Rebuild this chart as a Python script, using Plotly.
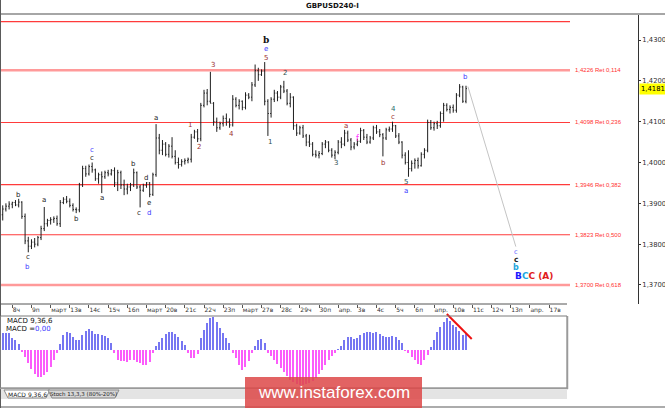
import plotly.graph_objects as go

W, H = 665, 408

# 4h bars, index 0 = first bar of 8 March, 6 bars per day
bar_idx = list(range(-3, 143))

bar_open = [
    1.3872, 1.3886, 1.3893, 1.3898, 1.3902, 1.3896,
    1.3903, 1.3868, 1.3808, 1.3795, 1.3805, 1.3800,
    1.3816, 1.3838, 1.3850, 1.3858, 1.3860, 1.3863,
    1.3850, 1.3902, 1.3910, 1.3905, 1.3895, 1.3885,
    1.3884, 1.3945, 1.3985, 1.3972, 1.3990, 1.3982,
    1.3960, 1.3970, 1.3965, 1.3975, 1.3972, 1.3980,
    1.3950, 1.3975, 1.3945, 1.3935, 1.3940, 1.3945,
    1.3975, 1.3940, 1.3932, 1.3944, 1.3950, 1.3922,
    1.3970, 1.4060, 1.4030, 1.4045, 1.4020, 1.4040,
    1.4015, 1.4000, 1.3995, 1.4002, 1.4005, 1.4008,
    1.4062, 1.4075, 1.4058, 1.4140, 1.4170, 1.4150,
    1.4145, 1.4100, 1.4085, 1.4095, 1.4108, 1.4100,
    1.4092, 1.4155, 1.4140, 1.4150, 1.4135, 1.4165,
    1.4160, 1.4190, 1.4225, 1.4215, 1.4224, 1.4150,
    1.4120, 1.4155, 1.4170, 1.4160, 1.4185, 1.4175,
    1.4145, 1.4160, 1.4090, 1.4072, 1.4085, 1.4065,
    1.4050, 1.4045, 1.4020, 1.4018, 1.4022, 1.4045,
    1.4050, 1.4030, 1.4018, 1.4025, 1.4050, 1.4045,
    1.4072, 1.4055, 1.4038, 1.4045, 1.4052, 1.4078,
    1.4062, 1.4050, 1.4060, 1.4085, 1.4075, 1.4068,
    1.4060, 1.4080, 1.4082, 1.4090, 1.4065, 1.4050,
    1.4018, 1.4000, 1.3985, 1.3998, 1.4005, 1.3992,
    1.4020, 1.4030, 1.4098, 1.4085, 1.4095, 1.4090,
    1.4120, 1.4140, 1.4130, 1.4135, 1.4128, 1.4165,
    1.4185, 1.4150,
]
bar_high = [
    1.3895, 1.3900, 1.3905, 1.3904, 1.3908, 1.3911,
    1.3905, 1.3875, 1.3818, 1.3812, 1.3815, 1.3820,
    1.3845, 1.3891, 1.3862, 1.3866, 1.3868, 1.3870,
    1.3908, 1.3915, 1.3918, 1.3912, 1.3900, 1.3890,
    1.3950, 1.3992, 1.3992, 1.3995, 1.4000, 1.3985,
    1.3975, 1.3978, 1.3980, 1.3982, 1.3984, 1.3988,
    1.3982, 1.3980, 1.3958, 1.3948, 1.3950, 1.3985,
    1.3978, 1.3945, 1.3948, 1.3952, 1.3952, 1.3975,
    1.4094, 1.4070, 1.4055, 1.4050, 1.4045, 1.4062,
    1.4030, 1.4012, 1.4008, 1.4010, 1.4012, 1.4070,
    1.4080, 1.4082, 1.4146, 1.4178, 1.4180, 1.4222,
    1.4148, 1.4110, 1.4100, 1.4115, 1.4120, 1.4108,
    1.4165, 1.4160, 1.4155, 1.4152, 1.4172, 1.4170,
    1.4197, 1.4240, 1.4232, 1.4228, 1.4246, 1.4155,
    1.4160, 1.4178, 1.4175, 1.4190, 1.4200, 1.4180,
    1.4170, 1.4162, 1.4095, 1.4090, 1.4092, 1.4070,
    1.4068, 1.4050, 1.4030, 1.4028, 1.4050, 1.4055,
    1.4052, 1.4035, 1.4030, 1.4055, 1.4062, 1.4080,
    1.4078, 1.4060, 1.4050, 1.4058, 1.4085, 1.4082,
    1.4070, 1.4065, 1.4090, 1.4092, 1.4082, 1.4072,
    1.4085, 1.4088, 1.4100, 1.4092, 1.4072, 1.4052,
    1.4025, 1.4030, 1.4005, 1.4010, 1.4012, 1.4025,
    1.4035, 1.4105, 1.4104, 1.4100, 1.4102, 1.4125,
    1.4146, 1.4145, 1.4140, 1.4142, 1.4170, 1.4192,
    1.4188, 1.4188,
]
bar_low = [
    1.3858, 1.3880, 1.3885, 1.3888, 1.3893, 1.3890,
    1.3862, 1.3800, 1.3780, 1.3788, 1.3792, 1.3795,
    1.3810, 1.3832, 1.3843, 1.3848, 1.3852, 1.3845,
    1.3842, 1.3898, 1.3900, 1.3890, 1.3880, 1.3876,
    1.3878, 1.3940, 1.3965, 1.3968, 1.3975, 1.3955,
    1.3948, 1.3925, 1.3960, 1.3966, 1.3968, 1.3940,
    1.3930, 1.3935, 1.3920, 1.3922, 1.3930, 1.3940,
    1.3935, 1.3890, 1.3928, 1.3938, 1.3915, 1.3918,
    1.3965, 1.4020, 1.4018, 1.4015, 1.4012, 1.4010,
    1.3995, 1.3985, 1.3990, 1.3995, 1.3998, 1.4000,
    1.4058, 1.4050, 1.4052, 1.4135, 1.4140, 1.4145,
    1.4090, 1.4075, 1.4080, 1.4088, 1.4090, 1.4085,
    1.4088, 1.4135, 1.4130, 1.4128, 1.4130, 1.4155,
    1.4150, 1.4185, 1.4200, 1.4212, 1.4140, 1.4065,
    1.4110, 1.4148, 1.4150, 1.4155, 1.4170, 1.4140,
    1.4135, 1.4080, 1.4065, 1.4068, 1.4060, 1.4040,
    1.4038, 1.4015, 1.4012, 1.4010, 1.4018, 1.4035,
    1.4025, 1.4012, 1.4008, 1.4020, 1.4035, 1.4040,
    1.4050, 1.4030, 1.4032, 1.4040, 1.4048, 1.4055,
    1.4045, 1.4046, 1.4055, 1.4070, 1.4062, 1.4015,
    1.4055, 1.4075, 1.4075, 1.4060, 1.4045, 1.4010,
    1.3995, 1.3965, 1.3978, 1.3985, 1.3985, 1.3990,
    1.4010, 1.4025, 1.4080, 1.4078, 1.4082, 1.4085,
    1.4100, 1.4125, 1.4120, 1.4122, 1.4122, 1.4160,
    1.4146, 1.4145,
]
bar_close = [
    1.3886, 1.3893, 1.3898, 1.3902, 1.3896, 1.3903,
    1.3868, 1.3808, 1.3795, 1.3805, 1.3800, 1.3816,
    1.3838, 1.3850, 1.3858, 1.3860, 1.3863, 1.3850,
    1.3902, 1.3910, 1.3905, 1.3895, 1.3885, 1.3884,
    1.3945, 1.3985, 1.3972, 1.3990, 1.3982, 1.3960,
    1.3970, 1.3965, 1.3975, 1.3972, 1.3980, 1.3950,
    1.3975, 1.3945, 1.3935, 1.3940, 1.3945, 1.3975,
    1.3940, 1.3932, 1.3944, 1.3950, 1.3922, 1.3970,
    1.4060, 1.4030, 1.4045, 1.4020, 1.4040, 1.4015,
    1.4000, 1.3995, 1.4002, 1.4005, 1.4008, 1.4062,
    1.4075, 1.4058, 1.4140, 1.4170, 1.4150, 1.4145,
    1.4100, 1.4085, 1.4095, 1.4108, 1.4100, 1.4092,
    1.4155, 1.4140, 1.4150, 1.4135, 1.4165, 1.4160,
    1.4190, 1.4225, 1.4215, 1.4224, 1.4150, 1.4120,
    1.4155, 1.4170, 1.4160, 1.4185, 1.4175, 1.4145,
    1.4160, 1.4090, 1.4072, 1.4085, 1.4065, 1.4050,
    1.4045, 1.4020, 1.4018, 1.4022, 1.4045, 1.4050,
    1.4030, 1.4018, 1.4025, 1.4050, 1.4045, 1.4072,
    1.4055, 1.4038, 1.4045, 1.4052, 1.4078, 1.4062,
    1.4050, 1.4060, 1.4085, 1.4075, 1.4068, 1.4060,
    1.4080, 1.4082, 1.4090, 1.4065, 1.4050, 1.4018,
    1.4000, 1.3985, 1.3998, 1.4005, 1.3992, 1.4020,
    1.4030, 1.4098, 1.4085, 1.4095, 1.4090, 1.4120,
    1.4140, 1.4130, 1.4135, 1.4128, 1.4165, 1.4185,
    1.4150, 1.4181,
]

# MACD(9,36,6) histogram, same bars
macd_hist = [
    17, 17, 17, 12, 10, 6,
    -2, -7, -13, -19, -24, -27,
    -27, -25, -22, -17, -10, -3,
    6, 15, 18, 17, 13, 10,
    10, 15, 19, 21, 19, 16,
    16, 15, 14, 12, 7, -3,
    -10, -11, -11, -12, -10, -10,
    -12, -13, -15, -15, -12, -3,
    4, 8, 12, 16, 18, 18,
    16, 13, 9, 5, -3, -8,
    -8, -4, 12, 20, 27, 32,
    33, 28, 22, 17, 12, 7,
    -3, -8, -15, -20, -17, -11,
    -3, 4, 10, 11, 7, -3,
    -6, -10, -14, -18, -22, -26,
    -30, -32, -34, -35, -35, -34,
    -33, -31, -28, -24, -20, -15,
    -10, -6, -3, 1, 4, 10,
    13, 13, 11, 12, 15, 17,
    18, 18, 17, 18, 16, 14,
    13, 13, 14, 13, 10, 7,
    -1, -3, -7, -10, -14, -15,
    -10, -5, 3, 10, 18, 23,
    28, 32, 29, 25, 23, 19,
    15, 17,
]

bars_per_day = 6
day_labels = ["8ч", "9п", "март", "13в", "14с", "15ч", "16п", "март", "20в", "21с",
              "22ч", "23п", "март", "27в", "28с", "29ч", "30п", "апр.", "3в", "4с",
              "5ч", "6п", "апр.", "10в", "11с", "12ч", "13п", "апр.", "17в"]

price_ticks = [1.37, 1.38, 1.39, 1.40, 1.41, 1.42, 1.43]
last_price = 1.4181

fib_levels = [1.4345, 1.4226, 1.4098, 1.3946, 1.3823, 1.3700]
fib_ratio = [None, "0,114", "0,236", "0,382", "0,500", "0,618"]

# wave marks: text, bar position, price, kind
wave_text = ["b", "c", "b", "a", "b", "c", "c", "a", "b", "c", "d", "e", "d", "a",
             "1", "2", "3", "4", "5", "e", "b", "1", "2", "3", "a", "f", "b", "c",
             "4", "5", "a", "b"]
wave_x = [1.8, 4.9, 4.9, 9.9, 20.0, 25.0, 25.0, 28.0, 37.8, 39.7, 41.8, 42.8, 42.8, 45.0,
          55.6, 58.4, 62.8, 68.5, 79.4, 79.4, 79.4, 80.7, 85.4, 101.3, 104.4, 108.0, 116.3, 119.2,
          119.2, 123.2, 123.2, 142.0]
wave_y = [1.3920, 1.3769, 1.3744, 1.3908, 1.3862, 1.4030, 1.4010, 1.3913, 1.3996, 1.3876,
          1.3962, 1.3901, 1.3876, 1.4110, 1.4092, 1.4038, 1.4239, 1.4070, 1.4256, 1.4278,
          1.4300, 1.4050, 1.4219, 1.3999, 1.4089, 1.4058, 1.3999, 1.4111, 1.4131, 1.3952,
          1.3930, 1.4209]
wave_kind = ["k", "k", "blue", "k", "k", "blue", "k", "k", "k", "k", "k", "k", "blue", "k",
             "brown", "brown", "brown", "brown", "brown", "blue", "top", "slate", "slate", "slate",
             "brown", "mag", "brown", "brown", "teal", "slate", "blue", "blue"]

# projected path and its target labels
proj_x = [142.6, 157.6]
proj_y = [1.4186, 1.3794]
target_x = 157.6
target_c1_y = 1.3781
target_c2_y = 1.3763
target_b_y = 1.3744
target_main_y = 1.3722

macd_trend_x = [136.0, 143.8]
macd_trend_y = [36, 11]

# ---- pixel geometry of the terminal window ----
BAR0_PX, BAR_PX = 12.3, 3.195      # x pixel of bar 0, pixels per bar
P_REF, Y_REF, PX_PER_UNIT = 1.43, 40, 4083


def px_x(x):
    return x / W


def px_y(y):
    return 1 - y / H


def bar_at(x):
    return (x - BAR0_PX) / BAR_PX


def price_at(y):
    return P_REF - (y - Y_REF) / PX_PER_UNIT


AX_RIGHT = 638
x_range = [bar_at(0), bar_at(AX_RIGHT)]
y_range = [price_at(304), price_at(14)]

kind_style = {
    "k": dict(color="#222222", size=7, family="DejaVu Sans"),
    "blue": dict(color="#3a3aff", size=7, family="DejaVu Sans"),
    "brown": dict(color="#9a3030", size=7, family="DejaVu Sans"),
    "slate": dict(color="#2f5050", size=7, family="DejaVu Sans"),
    "teal": dict(color="#1d6b6b", size=7, family="DejaVu Sans"),
    "mag": dict(color="#ff30ff", size=8, family="DejaVu Sans"),
    "top": dict(color="#111111", size=9, family="DejaVu Serif"),
}

fig = go.Figure()

fig.add_trace(go.Ohlc(
    x=bar_idx, open=bar_open, high=bar_high, low=bar_low, close=bar_close,
    increasing=dict(line=dict(color="#1e1e1e", width=1)),
    decreasing=dict(line=dict(color="#1e1e1e", width=1)),
    tickwidth=0.3, xaxis="x", yaxis="y", hoverinfo="skip",
))

fig.add_trace(go.Scatter(
    x=proj_x, y=proj_y, mode="lines", line=dict(color="#c4c4c4", width=1),
    xaxis="x", yaxis="y", hoverinfo="skip",
))

fig.add_trace(go.Bar(
    x=bar_idx, y=macd_hist, width=0.38,
    marker=dict(color=["#7676f2" if v >= 0 else "#fb5cfb" for v in macd_hist], line=dict(width=0)),
    xaxis="x2", yaxis="y2", hoverinfo="skip",
))

fig.add_trace(go.Scatter(
    x=macd_trend_x, y=macd_trend_y, mode="lines", line=dict(color="#ee1111", width=2),
    xaxis="x2", yaxis="y2", hoverinfo="skip",
))

shapes = []
annotations = []

# fibonacci retracement levels
fib_end = bar_at(570)
for lvl, ratio in zip(fib_levels, fib_ratio):
    soft = ratio in ("0,114", "0,618")
    shapes.append(dict(type="line", xref="x", yref="y", x0=x_range[0], x1=fib_end, y0=lvl, y1=lvl,
                       line=dict(color="#ff9a9a" if soft else "#ff3b3b", width=2.5 if soft else 1.2),
                       layer="below"))
    if ratio:
        annotations.append(dict(x=bar_at(573), y=lvl, xref="x", yref="y", xanchor="left",
                                text=f"{lvl:.4f}".replace(".", ",") + " Ret " + ratio,
                                showarrow=False, font=dict(family="Liberation Sans", size=6, color="#ff3030")))

for t, x, y, k in zip(wave_text, wave_x, wave_y, wave_kind):
    txt = f"<b>{t}</b>" if k == "top" else t
    annotations.append(dict(x=x, y=y, xref="x", yref="y", text=txt, showarrow=False,
                            font=kind_style[k]))

annotations += [
    dict(x=target_x, y=target_c1_y, xref="x", yref="y", text="c", showarrow=False,
         font=dict(family="DejaVu Sans", size=6.5, color="#6a6aff")),
    dict(x=target_x, y=target_c2_y, xref="x", yref="y", text="<b>c</b>", showarrow=False,
         font=dict(family="DejaVu Sans", size=7.5, color="#222222")),
    dict(x=target_x, y=target_b_y, xref="x", yref="y", text="<b>b</b>", showarrow=False,
         font=dict(family="DejaVu Sans", size=8, color="#1fa6dc")),
    dict(x=bar_at(513), y=target_main_y, xref="x", yref="y", xanchor="left", showarrow=False,
         text="<b><span style='color:#1a1aff'>B</span><span style='color:#19a8e0'>C</span>"
              "<span style='color:#e01c1c'>C (A)</span></b>",
         font=dict(family="DejaVu Sans", size=9)),
]

# current price flag
annotations.append(dict(x=px_x(AX_RIGHT + 0.5), y=last_price, xref="paper", yref="y",
                        xanchor="left", yanchor="middle",
                        text=f"{last_price:.4f}".replace(".", ","), showarrow=False, bgcolor="#ffff00",
                        borderpad=1, font=dict(family="DejaVu Sans", size=6.8, color="#000000")))


def paper_text(x, y, text, size, color="#111111", anchor="left", family="DejaVu Sans"):
    annotations.append(dict(x=px_x(x), y=px_y(y), xref="paper", yref="paper", xanchor=anchor,
                            yanchor="middle", text=text, showarrow=False,
                            font=dict(family=family, size=size, color=color)))


# title
paper_text(332, 6, "<b>GBPUSD240-I</b>", 7, anchor="center")

# MACD captions
paper_text(5, 321, "MACD 9,36,6", 7)
paper_text(4, 328.5, "MACD =<span style='color:#3a3aff'>0,00</span>", 7)


# window frame
def seg(x0, y0, x1, y1, color, width):
    shapes.append(dict(type="line", xref="paper", yref="paper", x0=px_x(x0), y0=px_y(y0),
                       x1=px_x(x1), y1=px_y(y1), line=dict(color=color, width=width)))


seg(0, 14, W, 14, "#a6a6a6", 2)
seg(0.5, 0, 0.5, H, "#5a5a5a", 1)
seg(0, 407, W, 407, "#5a5a5a", 1.2)
seg(0, 304, 567, 304, "#555555", 1)

# MACD sub-window box
shapes.append(dict(type="rect", xref="paper", yref="paper", x0=px_x(0.5), x1=px_x(567), y0=px_y(388),
                   y1=px_y(316), line=dict(color="#7a7a7a", width=1)))
seg(567.5, 316, 567.5, 389, "#9a9a9a", 1.5)
seg(0, 388.5, 568, 388.5, "#9a9a9a", 1.5)

# tab strip
shapes.append(dict(type="rect", xref="paper", yref="paper", x0=px_x(1), x1=px_x(567), y0=px_y(399),
                   y1=px_y(390), fillcolor="#e4e4e4", line=dict(width=0), layer="below"))


def tab(x0, x1, fill):
    pts = [(x0, 390), (x0 + 4, 398), (x1 - 4, 398), (x1, 390)]
    path = "M " + " L ".join(f"{px_x(a):.5f},{px_y(b):.5f}" for a, b in pts) + " Z"
    shapes.append(dict(type="path", xref="paper", yref="paper", path=path, fillcolor=fill,
                       line=dict(color="#8a8a8a", width=1)))


tab(4, 50, "#ffffff")
tab(48, 119, "#d6d6d6")
paper_text(27, 394, "MACD 9,36,6", 6, "#222222", anchor="center")
paper_text(83.5, 394, "Stoch 13,3,3 (80%-20%)", 5.5, "#222222", anchor="center")

# watermark
shapes.append(dict(type="rect", xref="paper", yref="paper", x0=px_x(245), x1=px_x(422), y0=px_y(408),
                   y1=px_y(377), fillcolor="rgba(221,72,72,0.85)", line=dict(width=0)))
paper_text(333.5, 392.5, "www.instaforex.com", 17, "#ffffff", anchor="center", family="Liberation Sans")

fig.update_layout(
    width=W, height=H, margin=dict(l=0, r=0, t=0, b=0),
    paper_bgcolor="#ffffff", plot_bgcolor="#ffffff",
    showlegend=False, separators=",.", bargap=0,
    xaxis=dict(domain=[0, px_x(AX_RIGHT)], range=x_range, anchor="y",
               tickvals=[k * bars_per_day for k in range(len(day_labels))], ticktext=day_labels,
               ticks="outside", ticklen=3, tickcolor="#555555", ticklabelposition="outside right",
               tickangle=0, tickfont=dict(family="DejaVu Sans", size=6, color="#333333"),
               showgrid=False, zeroline=False, showline=False, rangeslider=dict(visible=False)),
    yaxis=dict(domain=[px_y(304), px_y(14)], range=y_range, anchor="x", side="right",
               tickvals=price_ticks, tickformat=".4f", ticks="outside", ticklen=2, tickcolor="#333333",
               tickfont=dict(family="DejaVu Sans", size=6.8, color="#333333"),
               showline=True, linecolor="#333333", linewidth=1, showgrid=False, zeroline=False),
    xaxis2=dict(domain=[0, px_x(AX_RIGHT)], range=x_range, anchor="y2", matches="x",
                showticklabels=False, ticks="", showgrid=False, zeroline=False, showline=False),
    yaxis2=dict(domain=[px_y(388), px_y(313)], range=[-38, 37], anchor="x2",
                showticklabels=False, ticks="", showgrid=False, zeroline=False, showline=False),
    shapes=shapes, annotations=annotations,
)

fig.write_html("out.html", config={"displayModeBar": False},
               post_script="document.body.style.margin='0';document.body.style.overflow='hidden';")
